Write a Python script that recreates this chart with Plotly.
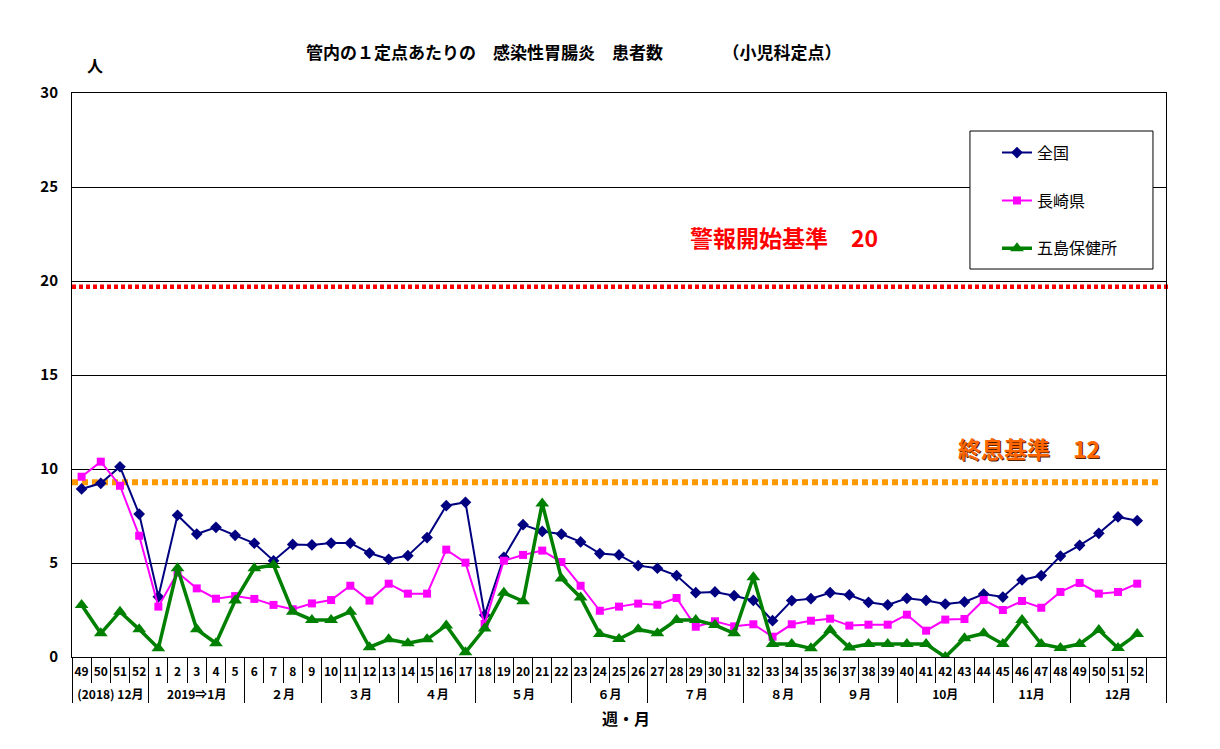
import plotly.graph_objects as go

# ---- data ----
weeks = ["49", "50", "51", "52"] + [str(w) for w in range(1, 53)]
month_groups = [("(2018) 12月", 4), ("2019⇒1月", 5), ("２月", 4), ("３月", 4), ("４月", 4),
                ("５月", 5), ("６月", 4), ("７月", 5), ("８月", 4), ("９月", 4),
                ("10月", 5), ("11月", 4), ("12月", 4)]

national = [8.94, 9.24, 10.12, 7.6, 3.2, 7.54, 6.54, 6.9, 6.47, 6.05, 5.12, 5.99, 5.96, 6.06,
            6.06, 5.53, 5.2, 5.39, 6.35, 8.05, 8.23, 2.23, 5.3, 7.04, 6.68, 6.54, 6.12, 5.5,
            5.43, 4.86, 4.72, 4.33, 3.42, 3.46, 3.26, 3.01, 1.93, 3.0, 3.1, 3.42, 3.3, 2.91,
            2.77, 3.12, 3.01, 2.82, 2.93, 3.35, 3.19, 4.1, 4.33, 5.37, 5.94, 6.58, 7.45, 7.25]
nagasaki = [9.59, 10.39, 9.11, 6.45, 2.68, 4.49, 3.65, 3.1, 3.24, 3.09, 2.77, 2.54, 2.85, 3.03,
            3.79, 3.0, 3.9, 3.37, 3.37, 5.71, 5.02, 1.76, 5.12, 5.43, 5.66, 5.05, 3.79, 2.46,
            2.68, 2.84, 2.78, 3.14, 1.61, 1.9, 1.63, 1.74, 1.08, 1.74, 1.93, 2.04, 1.67, 1.72,
            1.72, 2.25, 1.4, 1.99, 2.02, 3.03, 2.5, 2.98, 2.62, 3.46, 3.94, 3.37, 3.46, 3.9]
goto = [2.77, 1.26, 2.41, 1.47, 0.46, 4.72, 1.47, 0.73, 3.0, 4.72, 4.89, 2.41, 1.97, 1.97,
        2.41, 0.52, 0.94, 0.73, 0.94, 1.68, 0.25, 1.51, 3.42, 2.96, 8.17, 4.18, 3.17, 1.22,
        0.96, 1.47, 1.26, 1.97, 1.97, 1.7, 1.26, 4.24, 0.69, 0.69, 0.46, 1.44, 0.5, 0.69,
        0.69, 0.69, 0.69, 0.0, 1.0, 1.26, 0.69, 1.97, 0.69, 0.48, 0.69, 1.44, 0.48, 1.22]

alert_level = 19.7   # 警報開始基準
end_level = 9.3      # 終息基準
y_ticks = [0, 5, 10, 15, 20, 25, 30]

# ---- build multicategory x (plus one empty trailing slot in 12月) ----
months = []
for name, n in month_groups:
    months += [name] * n
x_months = months + ["12月"]
# empty trailing slot; its (blank) label is a bit taller so the month row sits lower
x_weeks = weeks + ['<span style="font-size:17.5px">\u00a0</span>']

def ext(v):
    return list(v) + [None]

FONT = "Noto Sans CJK JP"

fig = go.Figure()
fig.add_trace(go.Scatter(
    x=[x_months, x_weeks], y=ext(national), name="全国", mode="lines+markers",
    line=dict(color="#000080", width=2), marker=dict(symbol="diamond", size=9, color="#000080"),
    legendgroup="a"))
fig.add_trace(go.Scatter(
    x=[x_months, x_weeks], y=ext(nagasaki), name="長崎県", mode="lines+markers",
    line=dict(color="#FF00FF", width=2), marker=dict(symbol="square", size=8, color="#FF00FF"),
    legendgroup="b"))
fig.add_trace(go.Scatter(
    x=[x_months, x_weeks], y=ext(goto), name="五島保健所", mode="lines+markers",
    line=dict(color="#008000", width=3.5), marker=dict(symbol="triangle-up", size=12, color="#008000"),
    legendgroup="c"))

fig.add_shape(type="line", xref="paper", yref="y", x0=0, x1=1.003, y0=alert_level, y1=alert_level,
              line=dict(color="#FF0000", width=4.5, dash="4px,3px"), layer="between")
fig.add_shape(type="line", xref="paper", yref="y", x0=0, x1=0.996, y0=end_level, y1=end_level,
              line=dict(color="#FF9900", width=6, dash="6px,4px"), layer="between")

fig.add_annotation(text="<b>警報開始基準　20</b>", xref="paper", yref="y", x=0.6508, y=22.34,
                   xanchor="center", yanchor="middle", showarrow=False,
                   font=dict(family=FONT, size=23, color="#FF0000"))
fig.add_annotation(text="<b>終息基準　12</b>", xref="paper", yref="y", x=0.8748, y=11.1,
                   xanchor="center", yanchor="middle", showarrow=False,
                   font=dict(family=FONT, size=23, color="#FF6600", shadow="1px 1px 0px #552200"))
fig.add_annotation(text="<b>管内の１定点あたりの　感染性胃腸炎　患者数　　　　（小児科定点）</b>",
                   xref="paper", yref="paper", x=0.4589, y=1.0727,
                   xanchor="center", yanchor="middle", showarrow=False,
                   font=dict(family=FONT, size=17, color="black"))
fig.add_annotation(text="<b>人</b>", xref="paper", yref="paper", x=0.021, y=1.0496,
                   xanchor="center", yanchor="middle", showarrow=False,
                   font=dict(family=FONT, size=16, color="black"))
fig.add_annotation(text="<b>週・月</b>", xref="paper", yref="paper", x=0.506, y=-0.108,
                   xanchor="center", yanchor="middle", showarrow=False,
                   font=dict(family=FONT, size=16, color="black"))

# legend box
fig.add_shape(type="rect", xref="paper", yref="paper", x0=0.8208, x1=0.9881, y0=0.6879, y1=0.9326,
              line=dict(color="black", width=1), fillcolor="white", layer="above")

fig.update_layout(
    width=1220, height=749, autosize=False,
    margin=dict(l=72, r=54, t=93, b=92),
    paper_bgcolor="white", plot_bgcolor="white",
    showlegend=True,
    legend=dict(x=0.8455, y=0.9243, xanchor="left", yanchor="top", bgcolor="rgba(0,0,0,0)",
                borderwidth=0, tracegroupgap=24, itemwidth=30,
                font=dict(family=FONT, size=16, color="black")),
    font=dict(family=FONT, color="black"),
)
fig.update_xaxes(
    type="multicategory", range=[-0.5, 56.5], showgrid=False,
    showline=True, linecolor="black", linewidth=1, mirror=True,
    ticks="outside", ticklen=25, tickcolor="black", tickwidth=1, tickson="boundaries",
    tickmode="linear", dtick=1, tickangle=0,
    ticklabelstandoff=4,
    showdividers=True, dividercolor="black", dividerwidth=1,
    tickfont=dict(family=FONT, size=12, color="black", weight="bold"),
)
fig.update_yaxes(
    range=[0, 30], tickvals=y_ticks, showgrid=True, gridcolor="black", gridwidth=1,
    zeroline=False, showline=True, linecolor="black", linewidth=1, mirror=True,
    ticks="", ticklabelstandoff=10,
    tickfont=dict(family=FONT, size=15, color="black", weight="bold"),
)

fig.write_html("out.html", config={"displayModeBar": False},
               post_script="document.body.style.margin='0px';document.body.style.overflow='hidden';")
